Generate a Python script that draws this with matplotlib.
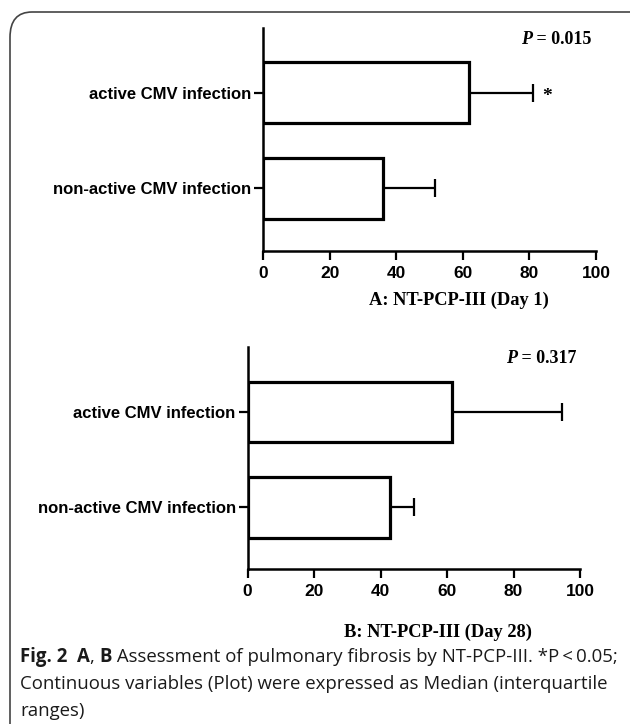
import numpy as np
import matplotlib
matplotlib.use('Agg')
import matplotlib.pyplot as plt
from matplotlib.patches import FancyBboxPatch

categories = ['non-active CMV infection', 'active CMV infection']

# Panel A: NT-PCP-III (Day 1) -- median and upper quartile
day1_median = [36.0, 61.9]
day1_upper = [51.6, 81.0]
# Panel B: NT-PCP-III (Day 28)
day28_median = [43.0, 61.5]
day28_upper = [50.1, 94.6]

xticks = [0, 20, 40, 60, 80, 100]
p_texts = ['0.015', '0.317']
xlabels = ['A: NT-PCP-III (Day 1)', 'B: NT-PCP-III (Day 28)']

sans = 'Liberation Sans'
serif = 'Liberation Serif'

fig = plt.figure(figsize=(6.3, 7.24), dpi=100)

# rounded frame round the figure
frame = FancyBboxPatch((10/630, -0.05), 1.05, 1 - 12/724 + 0.05,
                       boxstyle='round,pad=0,rounding_size=0.035',
                       transform=fig.transFigure, fill=False,
                       edgecolor='#444444', linewidth=1.2, zorder=0)
fig.patches.append(frame)

panels = [
    ([263/630, 1 - 251/724, 333/630, 223/724], day1_median, day1_upper, True, (-0.66, 1.68)),
    ([247.5/630, 1 - 569/724, 332.5/630, 222/724], day28_median, day28_upper, False, (-0.65, 1.684)),
]

fig.canvas.draw()
renderer = fig.canvas.get_renderer()

axes = []
for i, (rect, med, upp, star, ylim) in enumerate(panels):
    ax = fig.add_axes(rect)
    y = np.arange(len(categories))
    err = np.array(upp) - np.array(med)
    ax.barh(y, med, height=0.64, color='white', edgecolor='black', linewidth=2.3, zorder=2)
    ax.errorbar(med, y, xerr=[np.zeros_like(err), err], fmt='none', ecolor='black',
                elinewidth=1.6, capsize=6.5, capthick=1.6, zorder=1)
    ax.set_xlim(0, 100)
    ax.set_ylim(*ylim)
    ax.set_xticks(xticks)
    ax.set_yticks(y)
    ax.set_yticklabels(categories)
    for s in ['top', 'right']:
        ax.spines[s].set_visible(False)
    for s in ['left', 'bottom']:
        ax.spines[s].set_linewidth(1.8)
    ax.tick_params(axis='both', length=6.5, width=1.6, direction='out')
    ax.tick_params(axis='x', pad=4)
    ax.tick_params(axis='y', pad=2)
    for lab in ax.get_xticklabels():
        lab.set_fontfamily(sans)
        lab.set_fontweight('bold')
        lab.set_fontsize(12.5)
    for lab in ax.get_yticklabels():
        lab.set_fontfamily(sans)
        lab.set_fontweight('bold')
        lab.set_fontsize(12)
    # P value: italic bold P followed by the bold value
    px = 0.985 if i == 0 else 0.99
    py = 0.95 if i == 0 else 0.947
    tv = ax.text(px, py, ' = ' + p_texts[i], transform=ax.transAxes,
                 ha='right', va='center', fontsize=13, fontweight='bold', family=serif)
    fig.canvas.draw()
    bb = tv.get_window_extent(renderer=renderer)
    left = ax.transAxes.inverted().transform((bb.x0, 0))[0]
    ax.text(left, py, 'P', transform=ax.transAxes, ha='right', va='center',
            fontsize=13, fontweight='bold', fontstyle='italic', family=serif)
    if star:
        ax.text(upp[1] + 4.3, 0.96, '*', ha='center', va='center', fontsize=14,
                fontweight='bold', family=serif)
    axes.append(ax)

fig.text(459/630, 1 - 300/724, xlabels[0], ha='center', va='center',
         fontsize=13.3, fontweight='bold', family=serif)
fig.text(437.5/630, 1 - 632/724, xlabels[1], ha='center', va='center',
         fontsize=13.3, fontweight='bold', family=serif)

# caption with mixed bold / regular pieces
cap_font = 'Open Sans'
cap_size = 13.4
lines = [
    [('Fig. 2', 'bold'), ('  ', 'normal'), ('A', 'bold'), (', ', 'normal'), ('B', 'bold'),
     (' Assessment of pulmonary fibrosis by NT-PCP-III. *P\u2009<\u20090.05;', 'normal')],
    [('Continuous variables (Plot) were expressed as Median (interquartile', 'normal')],
    [('ranges)', 'normal')],
]
line_y = [657, 684, 711]
for pieces, ly in zip(lines, line_y):
    x = 20 / 630
    for txt, w in pieces:
        t = fig.text(x, 1 - ly/724, txt, ha='left', va='center', fontsize=cap_size,
                     fontweight=w, family=[cap_font, 'DejaVu Sans'], color='#1a1a1a')
        bb = t.get_window_extent(renderer=renderer)
        x += bb.width / fig.bbox.width

fig.savefig('out.png', dpi=100)
